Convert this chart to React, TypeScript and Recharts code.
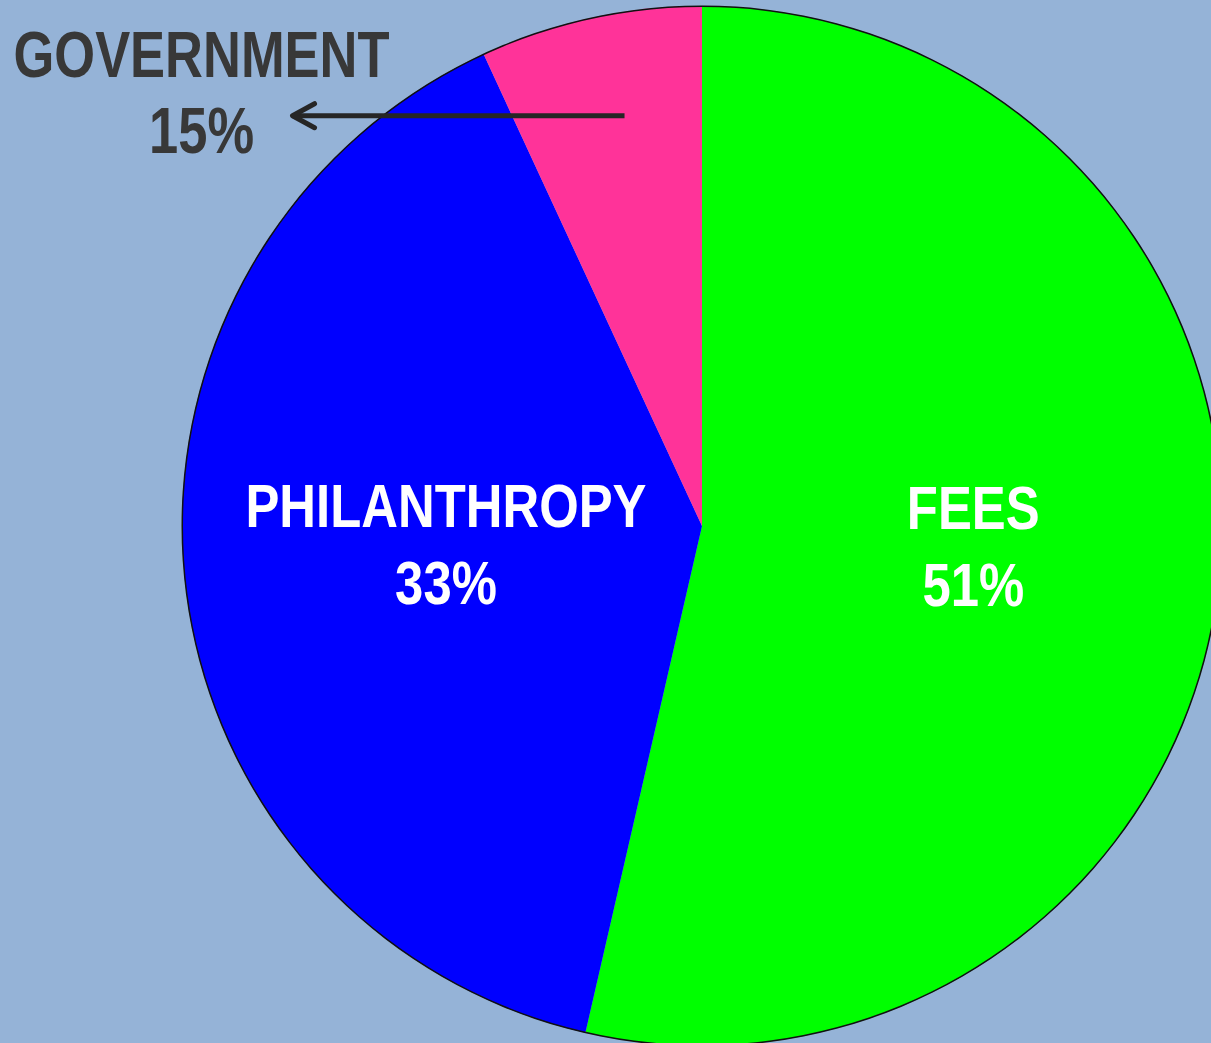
import React from "react";
import { PieChart, Pie, Cell } from "recharts";

// slice sizes (clockwise from 12 o'clock)
const sliceNames = ["FEES", "PHILANTHROPY", "GOVERNMENT"];
const sliceValues = [53.6, 39.5, 6.9];
// the percentages printed on the slide
const percentLabels = ["51%", "33%", "15%"];
const sliceColors = ["#00FF00", "#0000FF", "#FF3399"];

const data = sliceNames.map((name, i) => ({
  name,
  value: sliceValues[i],
  pct: percentLabels[i],
}));

const RADIAN = Math.PI / 180;
const FONT = "'Liberation Sans', Arial, sans-serif";

// narrow bold text: no condensed font installed, so squeeze horizontally
function NarrowText({ x, y, fill, size, children }: any) {
  return (
    <g transform={`translate(${x},${y}) scale(0.82,1)`}>
      <text x={0} y={0} textAnchor="middle" fill={fill} fontSize={size} fontWeight="bold" fontFamily={FONT}>
        {children}
      </text>
    </g>
  );
}

function renderLabel(props: any) {
  const { cx, cy, midAngle, outerRadius, index } = props;
  const item = data[index];
  const cos = Math.cos(-midAngle * RADIAN);
  const sin = Math.sin(-midAngle * RADIAN);

  if (index === 2) {
    // small slice: arrow pointing out to a label on the left
    const r = outerRadius * 0.8;
    const sx = cx + r * cos + 12;
    const sy = cy + r * sin - 4;
    const ex = sx - 334;
    return (
      <g>
        <line x1={sx} y1={sy} x2={ex + 2} y2={sy} stroke="#262626" strokeWidth={5} />
        <polyline
          points={`${ex + 24},${sy - 12} ${ex + 2},${sy} ${ex + 24},${sy + 12}`}
          fill="none"
          stroke="#262626"
          strokeWidth={5}
          strokeLinecap="round"
          strokeLinejoin="round"
        />
        <NarrowText x={ex - 89} y={sy - 39} fill="#383838" size={64}>
          {item.name}
        </NarrowText>
        <NarrowText x={ex - 89} y={sy + 37} fill="#383838" size={64}>
          {item.pct}
        </NarrowText>
      </g>
    );
  }

  const r = outerRadius * (index === 0 ? 0.525 : 0.495);
  const x = cx + r * cos;
  const y = cy + r * sin * 0.5;
  return (
    <g>
      <NarrowText x={x} y={y - 12} fill="#FFFFFF" size={62}>
        {item.name}
      </NarrowText>
      <NarrowText x={x} y={y + 65} fill="#FFFFFF" size={62}>
        {item.pct}
      </NarrowText>
    </g>
  );
}

export default function App() {
  return (
    <div
      style={{
        position: "fixed",
        left: 0,
        top: 0,
        width: 1211,
        height: 1043,
        background: "#95B3D7",
        overflow: "hidden",
      }}
    >
      <PieChart width={1211} height={1043} margin={{ top: 0, right: 0, bottom: 0, left: 0 }}>
        <Pie
          data={data}
          dataKey="value"
          nameKey="name"
          cx={702}
          cy={526}
          outerRadius={520}
          startAngle={90}
          endAngle={-270}
          stroke="none"
          labelLine={false}
          label={renderLabel}
          isAnimationActive={false}
        >
          {data.map((d, i) => (
            <Cell key={d.name} fill={sliceColors[i]} />
          ))}
        </Pie>
        {/* thin dark outline around the disc */}
        <Pie
          data={[{ value: 1 }]}
          dataKey="value"
          cx={702}
          cy={526}
          innerRadius={519}
          outerRadius={520.5}
          startAngle={90}
          endAngle={-270}
          fill="#111111"
          stroke="none"
          isAnimationActive={false}
        />
      </PieChart>
    </div>
  );
}
